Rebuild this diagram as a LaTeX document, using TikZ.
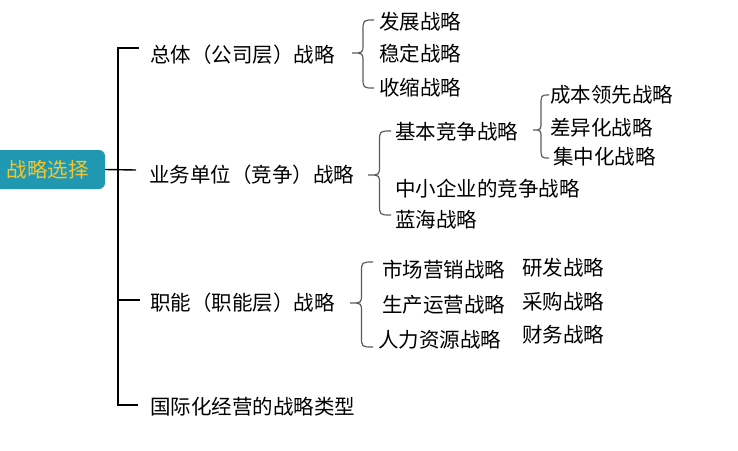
\documentclass[tikz,border=0pt]{standalone}
\usepackage{fontspec}
\setmainfont{Noto Sans CJK SC}
\usetikzlibrary{positioning}
\definecolor{rootfill}{RGB}{32,152,178}
\definecolor{roottext}{RGB}{244,198,42}
\definecolor{bracegray}{RGB}{90,90,90}
\tikzset{
    item/.style={anchor=west,inner sep=0pt,font=\fontsize{20.5}{24}\selectfont},
    rootbox/.style={fill=rootfill,text=roottext,rounded corners=6pt,minimum width=115pt,minimum height=39pt,inner sep=0pt,font=\fontsize{20.5}{24}\selectfont},
    treeline/.style={line width=1.4pt,draw=black},
    braceline/.style={line width=1.2pt,draw=bracegray}
}
% 花括号: 尖端x, 右端x, 上y, 中y, 下y
\newcommand{\curly}[5]{%
    \pgfmathsetmacro{\xm}{(#1+#2)/2}
    \draw[braceline] (#2,#3) .. controls (\xm,#3) .. (\xm,#3+11) -- (\xm,#4-9)
        .. controls (\xm,#4) .. (#1,#4) .. controls (\xm,#4) .. (\xm,#4+9)
        -- (\xm,#5-11) .. controls (\xm,#5) .. (#2,#5);
}

\begin{document}
\begin{tikzpicture}[x=1pt,y=-1pt]
  \useasboundingbox (0,0) rectangle (738,450);

  %---------------- 根节点 ----------------
            \node[rootbox] (root) at (47.5,169.5) {战略选择};

  %---------------- 第一层 ----------------
            \node[item] (corp) at (150,55) {总体（公司层）战略};
            \node[item] (biz) at (149,175) {业务单位（竞争）战略};
            \node[item] (func) at (150,303) {职能（职能层）战略};
            \node[item] (intl) at (150,407) {国际化经营的战略类型};

  % 主干
            \coordinate (top) at (118,48);
            \coordinate (bot) at (118,405);
            \draw[treeline] ([yshift=7pt,xshift=-11pt]corp.west) -| (top) -- (bot) -- ([yshift=2pt,xshift=-12pt]intl.west);
            \draw[treeline] (root.east) -- ([yshift=5pt,xshift=-13pt]biz.west);
            \draw[treeline] (118,300) -- ([yshift=3pt,xshift=-10pt]func.west);

  %---------------- 总体战略 ----------------
            \node[item] (grow) at (379,22) {发展战略};
            \node[item] (stab) at (379,54) {稳定战略};
            \node[item] (shrink) at (379,88) {收缩战略};
            \curly{352}{374}{20}{53}{88}

  %---------------- 业务单位战略 ----------------
            \node[item] (basic) at (395,132) {基本竞争战略};
            \node[item] (sme) at (395,189) {中小企业的竞争战略};
            \node[item] (blue) at (395,220) {蓝海战略};
            \curly{368}{391}{131}{175}{215}

            \node[item] (cost) at (550,95) {成本领先战略};
            \node[item] (diff) at (550,128) {差异化战略};
            \node[item] (focus) at (553,157) {集中化战略};
            \curly{533}{549}{95}{130}{158}

  %---------------- 职能战略 ----------------
            \node[item] (mkt) at (382,270) {市场营销战略};
            \node[item] (ops) at (382,305) {生产运营战略};
            \node[item] (hr) at (378,340) {人力资源战略};
            \curly{350}{373}{262}{303}{347}

            \node[item] (rd) at (522,268) {研发战略};
            \node[item] (buy) at (522,302) {采购战略};
            \node[item] (fin) at (522,335) {财务战略};

        \end{tikzpicture}
\end{document}
